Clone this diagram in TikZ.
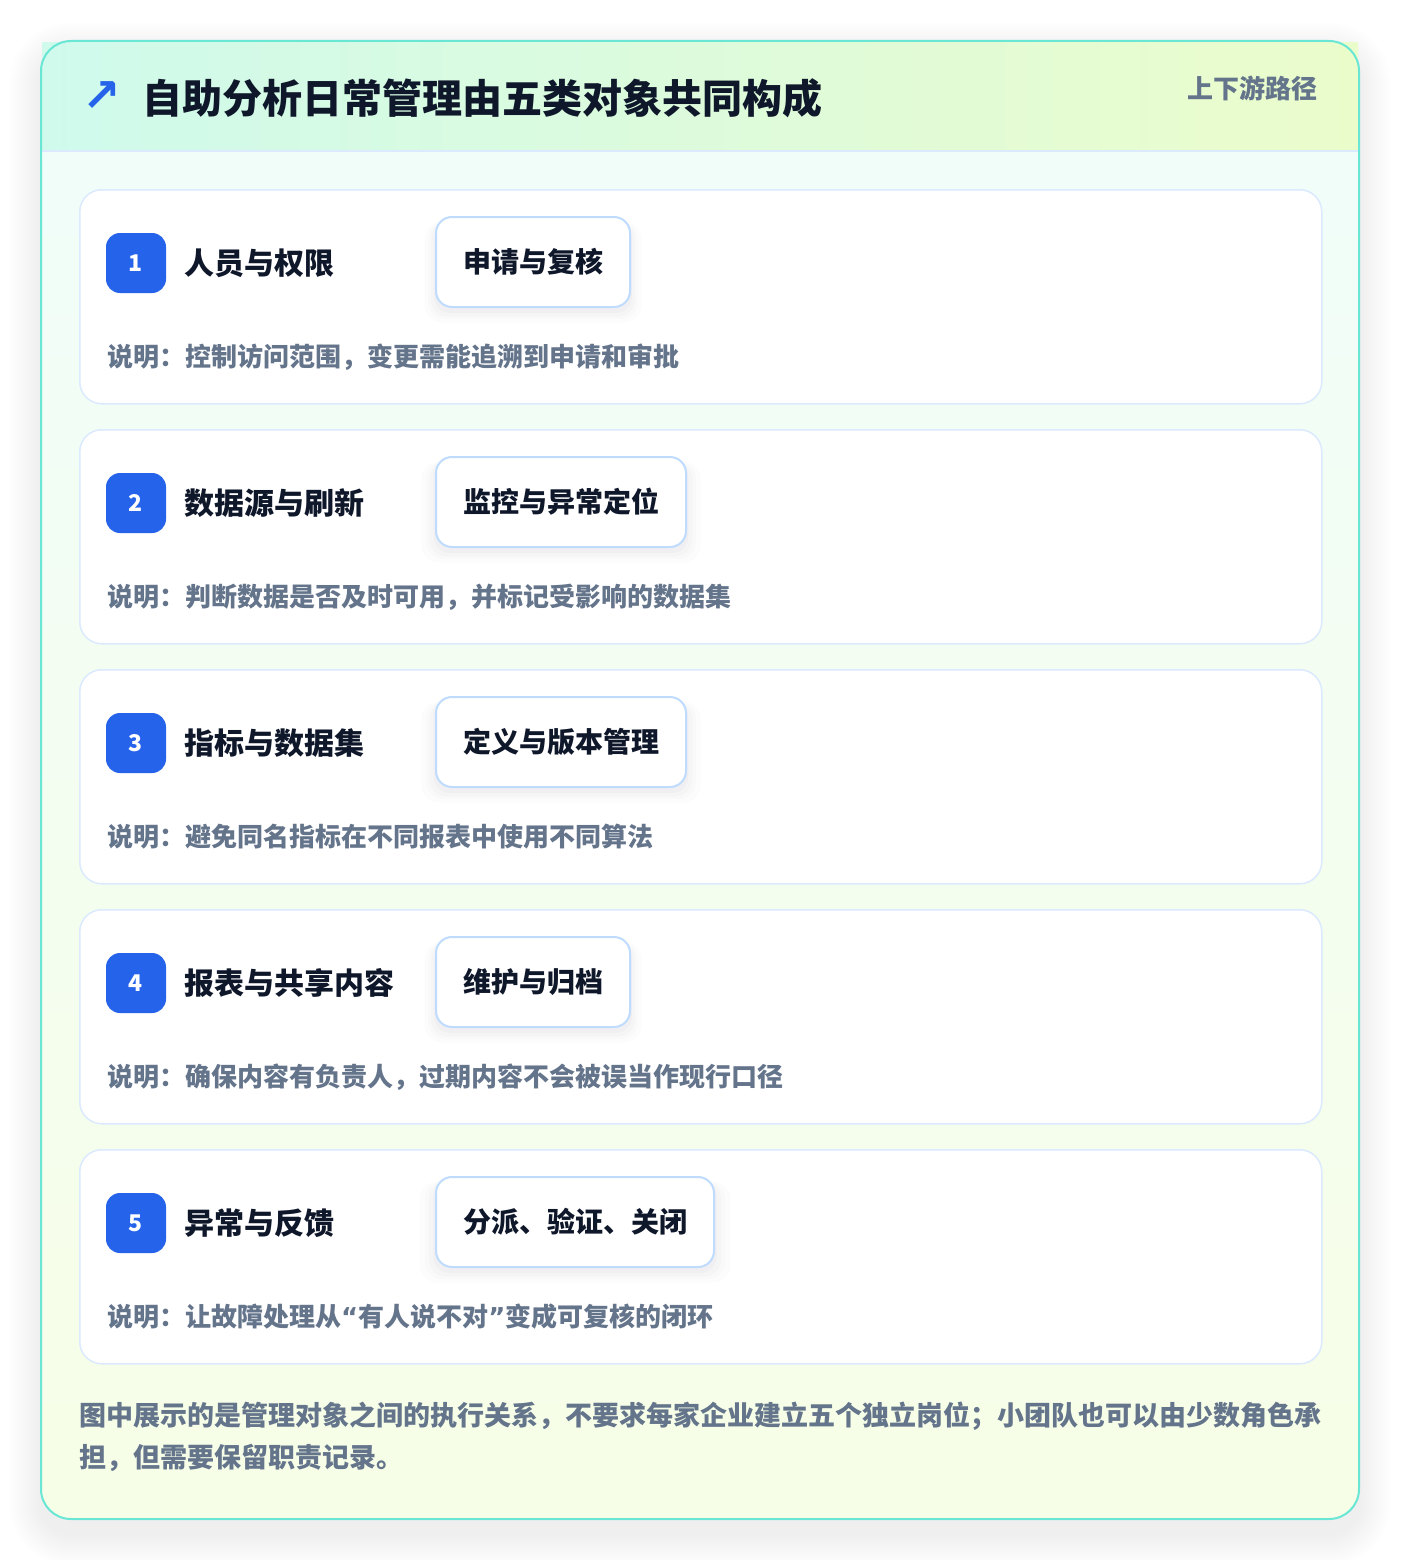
\documentclass[tikz,border=0pt]{standalone}
\usepackage{fontspec}
\usetikzlibrary{shadows}
\newfontfamily\cjk{Noto Sans CJK SC}
\newfontfamily\symfont{DejaVu Sans}
\definecolor{brandblue}{HTML}{2563EB}
\definecolor{darktext}{HTML}{0F172A}
\definecolor{greytext}{HTML}{64748B}
\definecolor{cardline}{HTML}{DBEAFE}
\definecolor{tagline}{HTML}{BFDBFE}
\definecolor{frameline}{HTML}{6AE6D4}
\definecolor{hdrL}{HTML}{CFFAEC}
\definecolor{hdrR}{HTML}{EBFCCB}
\definecolor{bodyT}{HTML}{F0FDFA}
\definecolor{bodyB}{HTML}{F7FEE7}
\newcommand{\cq}[1]{{\symfont\bfseries #1}}
\begin{document}
\begin{tikzpicture}[x=1pt,y=-1pt,
  sz/.style={inner sep=0pt, font=\cjk\bfseries\fontsize{#1}{#1}\selectfont,
    text height=#1*0.88pt, text depth=#1*0.12pt},
  card/.style={draw=cardline, line width=1.5pt, fill=white, rounded corners=22pt,
    minimum width=1242pt, minimum height=214pt, anchor=north west, inner sep=0pt},
  badge/.style={fill=brandblue, rounded corners=14pt, minimum width=60pt, minimum height=60pt,
    inner sep=0pt, text=white, font=\cjk\bfseries\fontsize{23}{23}\selectfont},
  tag/.style={sz=28, draw=tagline, line width=2pt, fill=white, rounded corners=16pt, minimum height=90pt,
    inner xsep=27pt, inner ysep=0pt, anchor=west, text=darktext,
    general shadow={fill=black!70!blue, opacity=0.010, shadow yshift=-9pt, shadow scale=1.12},
    general shadow={fill=black!70!blue, opacity=0.012, shadow yshift=-8pt, shadow scale=1.08},
    general shadow={fill=black!70!blue, opacity=0.015, shadow yshift=-7pt, shadow scale=1.05},
    general shadow={fill=black!70!blue, opacity=0.018, shadow yshift=-5pt, shadow scale=1.02}},
  ctitle/.style={sz=30, anchor=west, text=darktext},
  cdesc/.style={sz=26, anchor=west, text=greytext},
]
\useasboundingbox[fill=white] (0,0) rectangle (1400,1560);
% outer shadow
\foreach \i in {1,...,16}{
  \pgfmathsetmacro\rr{30+2*\i}
  \fill[black, opacity=0.0045, rounded corners=\rr pt] ({41-2*\i},{54-2*\i}) rectangle ({1359+2*\i},{1534+2*\i});
}
% frame body
\shade[top color=bodyT, bottom color=bodyB, rounded corners=30pt] (41,41) rectangle (1359,1519);
% header band
\shade[left color=hdrL, right color=hdrR] (42,43) rectangle (1358,151);
\draw[cardline, line width=1.5pt] (42,151) -- (1358,151);
% frame border
\draw[frameline, line width=2pt, rounded corners=30pt] (41,41) rectangle (1359,1519);
% header texts
\node[inner sep=0pt, text=brandblue, font=\symfont\bfseries\fontsize{46}{46}\selectfont] (icon) at (102,97) {↗};
\node[sz=40, anchor=west, text=darktext] (title) at (142,98) {自助分析日常管理由五类对象共同构成};
\node[sz=26, anchor=east, text=greytext] (path) at (1318,89) {上下游路径};
% cards
\foreach \k/\name/\tagtxt/\desc in {
  1/人员与权限/申请与复核/说明：控制访问范围，变更需能追溯到申请和审批,
  2/数据源与刷新/监控与异常定位/说明：判断数据是否及时可用，并标记受影响的数据集,
  3/指标与数据集/定义与版本管理/说明：避免同名指标在不同报表中使用不同算法,
  4/报表与共享内容/维护与归档/说明：确保内容有负责人，过期内容不会被误当作现行口径,
  5/异常与反馈/分派、验证、关闭/说明：让故障处理从\cq{“}有人说不对\cq{”}变成可复核的闭环}{
  \pgfmathsetmacro\top{189+240*(\k-1)}
  \node[card] (card\k) at (79,\top) {};
  \node[badge] (badge\k) at (136,\top+74) {\k};
  \node[ctitle] (name\k) at (184,\top+74) {\name};
  \node[tag] (tag\k) at (435,\top+73) {\tagtxt};
  \node[cdesc] (desc\k) at (107,\top+168) {\desc};
}
% bottom note
\node[sz=27, anchor=west, text=greytext] (note1) at (79,1415) {图中展示的是管理对象之间的执行关系，不要求每家企业建立五个独立岗位；小团队也可以由少数角色承};
\node[sz=27, anchor=west, text=greytext] (note2) at (79,1457) {担，但需要保留职责记录。};
\end{tikzpicture}
\end{document}
